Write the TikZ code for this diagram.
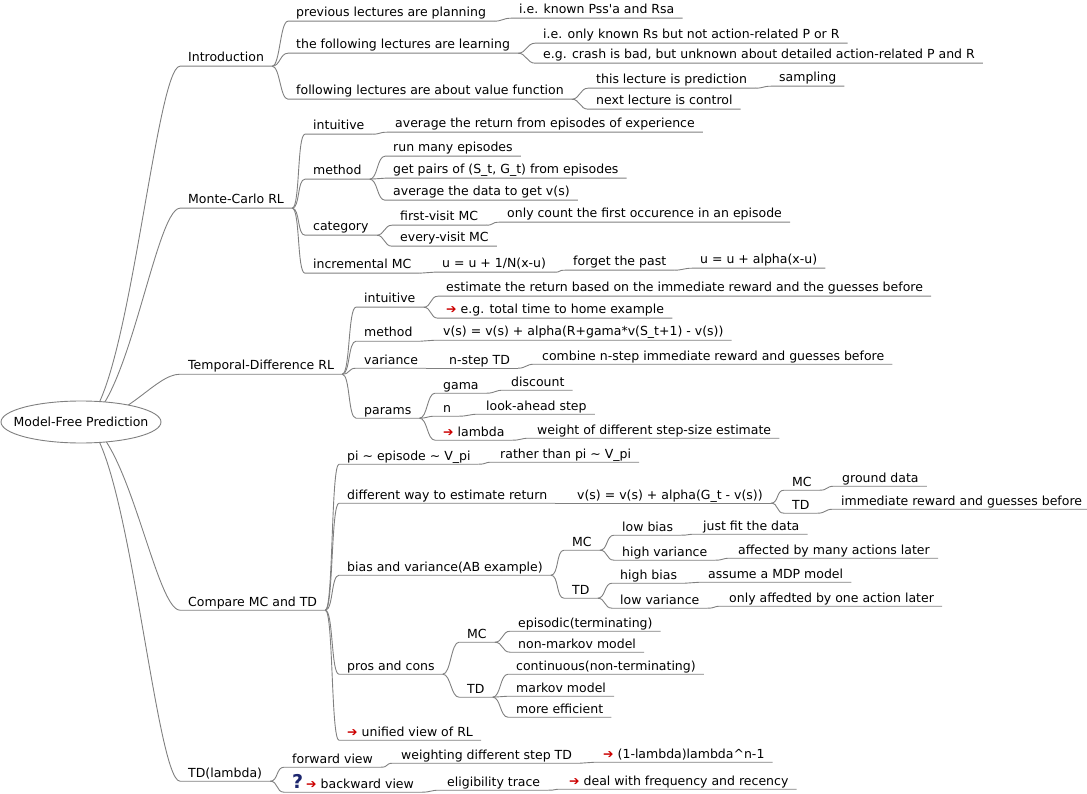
\documentclass[tikz,border=0pt]{standalone}
\usepackage{fontspec}
\setmainfont{DejaVu Sans}
\usetikzlibrary{shapes.geometric,backgrounds}

\definecolor{linegray}{RGB}{128,128,128}
\definecolor{arrowred}{RGB}{204,0,0}
\definecolor{qblue}{RGB}{28,38,110}
\newcommand{\redarrow}{{\color{arrowred}➔}\hspace{4pt}}
\newcommand{\qmark}{{\color{qblue}\bfseries\fontsize{19}{19}\selectfont ?}\hspace{3pt}}

\tikzstyle{topic} = [anchor=base west, inner xsep=8pt, inner ysep=4pt, text height=9pt, text depth=0pt, font=\fontsize{12.5}{15}\selectfont]
\tikzstyle{central} = [ellipse, draw=linegray, fill=white, line width=0.9pt, minimum width=160pt, minimum height=42pt, inner xsep=-11pt, inner ysep=0pt, font=\fontsize{12.5}{15}\selectfont]
\tikzstyle{fork} = [draw=linegray, line width=0.9pt, to path={.. controls +(8,0) and +(-8,0) .. (\tikztotarget)}]
\tikzstyle{trunk} = [draw=linegray, line width=0.9pt, to path={.. controls +(45,0) and +(-25,0) .. (\tikztotarget)}]

\begin{document}
\begin{tikzpicture}[x=1pt, y=-1pt]
\useasboundingbox (0,0) rectangle (1087,794);
\node[central] (root) at (81,422) {Model-Free Prediction};

% main branches
\node[topic] (intro) at (180,62) {Introduction};
\node[topic] (mc) at (180,204) {Monte-Carlo RL};
\node[topic] (td) at (180,370) {Temporal-Difference RL};
\node[topic] (cmp) at (180,606) {Compare MC and TD};
\node[topic] (tdl) at (180,777) {TD(lambda)};

% introduction
\node[topic] (plan) at (288,17) {previous lectures are planning};
\node[topic] (known) at (511,14) {i.e. known Pss\textquotesingle a and Rsa};
\node[topic] (learn) at (288,49) {the following lectures are learning};
\node[topic] (onlyrs) at (535,39) {i.e. only known Rs but not action-related P or R};
\node[topic] (crash) at (535,59) {e.g. crash is bad, but unknown about detailed action-related P and R};
\node[topic] (value) at (288,95) {following lectures are about value function};
\node[topic] (pred) at (588,84) {this lecture is prediction};
\node[topic] (sampl) at (771,82) {sampling};
\node[topic] (ctrl) at (588,105) {next lecture is control};

% monte-carlo
\node[topic] (mcint) at (305,130) {intuitive};
\node[topic] (mcavg) at (387,128) {average the return from episodes of experience};
\node[topic] (mcmeth) at (305,175) {method};
\node[topic] (runeps) at (385,152) {run many episodes};
\node[topic] (pairs) at (385,174) {get pairs of (S\_t, G\_t) from episodes};
\node[topic] (avgdata) at (385,196) {average the data to get v(s)};
\node[topic] (mccat) at (305,231) {category};
\node[topic] (first) at (392,221) {first-visit MC};
\node[topic] (firstonly) at (499,218) {only count the first occurence in an episode};
\node[topic] (every) at (392,242) {every-visit MC};
\node[topic] (incr) at (305,269) {incremental MC};
\node[topic] (incra) at (434,268) {u = u + 1/N(x-u)};
\node[topic] (forget) at (565,266) {forget the past};
\node[topic] (incrb) at (692,264) {u = u + alpha(x-u)};

% temporal-difference
\node[topic] (tdint) at (356,303) {intuitive};
\node[topic] (estim) at (438,292) {estimate the return based on the immediate reward and the guesses before};
\node[topic] (home) at (438,314) {\redarrow e.g. total time to home example};
\node[topic] (tdmeth) at (356,337) {method};
\node[topic] (tdupd) at (435,336) {v(s) = v(s) + alpha(R+gama*v(S\_t+1) - v(s))};
\node[topic] (tdvar) at (356,364) {variance};
\node[topic] (nstep) at (441,364) {n-step TD};
\node[topic] (combine) at (534,360) {combine n-step immediate reward and guesses before};
\node[topic] (params) at (356,414) {params};
\node[topic] (gama) at (435,389) {gama};
\node[topic] (disc) at (503,386) {discount};
\node[topic] (nn) at (435,412) {n};
\node[topic] (look) at (478,410) {look-ahead step};
\node[topic] (lam) at (435,436) {\redarrow lambda};
\node[topic] (weight) at (529,434) {weight of different step-size estimate};

% comparison
\node[topic] (pitraj) at (339,460) {pi \textasciitilde{} episode \textasciitilde{} V\_pi};
\node[topic] (rather) at (492,458) {rather than pi \textasciitilde{} V\_pi};
\node[topic] (way) at (339,499) {different way to estimate return};
\node[topic] (wayeq) at (569,499) {v(s) = v(s) + alpha(G\_t - v(s))};
\node[topic] (waymc) at (784,486) {MC};
\node[topic] (ground) at (834,482) {ground data};
\node[topic] (waytd) at (784,509) {TD};
\node[topic] (immed) at (833,505) {immediate reward and guesses before};
\node[topic] (bias) at (339,571) {bias and variance(AB example)};
\node[topic] (biasmc) at (564,546) {MC};
\node[topic] (lowbias) at (614,531) {low bias};
\node[topic] (fit) at (695,530) {just fit the data};
\node[topic] (highvar) at (614,556) {high variance};
\node[topic] (affected) at (730,554) {affected by many actions later};
\node[topic] (biastd) at (564,594) {TD};
\node[topic] (highbias) at (612,579) {high bias};
\node[topic] (mdp) at (700,578) {assume a MDP model};
\node[topic] (lowvar) at (612,604) {low variance};
\node[topic] (onlyone) at (721,602) {only affedted by one action later};
\node[topic] (pros) at (339,670) {pros and cons};
\node[topic] (prosmc) at (459,638) {MC};
\node[topic] (episodic) at (510,627) {episodic(terminating)};
\node[topic] (nonmarkov) at (510,648) {non-markov model};
\node[topic] (prostd) at (459,693) {TD};
\node[topic] (contin) at (508,670) {continuous(non-terminating)};
\node[topic] (markov) at (508,692) {markov model};
\node[topic] (effic) at (508,713) {more efficient};
\node[topic] (unified) at (339,736) {\redarrow unified view of RL};

% td(lambda)
\node[topic] (fwd) at (284,763) {forward view};
\node[topic] (wstep) at (393,759) {weighting different step TD};
\node[topic] (lamb) at (595,758) {\redarrow (1-lambda)lambda\textasciicircum{}n-1};
\node[topic] (bwd) at (284,788) {\qmark\redarrow backward view};
\node[topic] (elig) at (439,786) {eligibility trace};
\node[topic] (freq) at (561,785) {\redarrow deal with frequency and recency};

\begin{pgfonlayer}{background}
\foreach \c in {intro, mc, td, cmp, tdl}
    \draw[trunk] (root.center) to (\c.south west) -- (\c.south east);
\end{pgfonlayer}

\foreach \p/\c in {intro/plan, plan/known, intro/learn, learn/onlyrs, learn/crash,
    intro/value, value/pred, pred/sampl, value/ctrl,
    mc/mcint, mcint/mcavg, mc/mcmeth, mcmeth/runeps, mcmeth/pairs, mcmeth/avgdata,
    mc/mccat, mccat/first, first/firstonly, mccat/every,
    mc/incr, incr/incra, incra/forget, forget/incrb,
    td/tdint, tdint/estim, tdint/home, td/tdmeth, tdmeth/tdupd,
    td/tdvar, tdvar/nstep, nstep/combine,
    td/params, params/gama, gama/disc, params/nn, nn/look, params/lam, lam/weight,
    cmp/pitraj, pitraj/rather, cmp/way, way/wayeq, wayeq/waymc, waymc/ground,
    wayeq/waytd, waytd/immed,
    cmp/bias, bias/biasmc, biasmc/lowbias, lowbias/fit, biasmc/highvar, highvar/affected,
    bias/biastd, biastd/highbias, highbias/mdp, biastd/lowvar, lowvar/onlyone,
    cmp/pros, pros/prosmc, prosmc/episodic, prosmc/nonmarkov,
    pros/prostd, prostd/contin, prostd/markov, prostd/effic, cmp/unified,
    tdl/fwd, fwd/wstep, wstep/lamb, tdl/bwd, bwd/elig, elig/freq}
    \draw[fork] (\p.south east) to (\c.south west) -- (\c.south east);
\end{tikzpicture}
\end{document}
